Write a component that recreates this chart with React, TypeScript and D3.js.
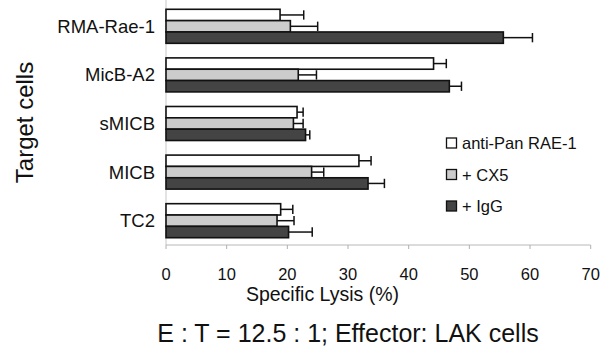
import React from 'react';
import { scaleLinear, scaleBand } from 'd3';

const categories = ['RMA-Rae-1', 'MicB-A2', 'sMICB', 'MICB', 'TC2'];
const seriesNames = ['anti-Pan RAE-1', '+ CX5', '+ IgG'];
const seriesColors = ['#ffffff', '#cccccc', '#444444'];

// values per series, in category order
const antiPan = [18.8, 44.1, 21.6, 31.8, 18.9];
const cx5 = [20.5, 21.8, 21.0, 24.0, 18.3];
const igg = [55.6, 46.7, 23.0, 33.3, 20.2];

// error (upper side only)
const antiPanErr = [3.9, 2.1, 1.0, 2.0, 2.0];
const cx5Err = [4.5, 3.0, 1.6, 2.0, 2.8];
const iggErr = [4.8, 2.0, 0.7, 2.7, 3.9];

const xTicks = [0, 10, 20, 30, 40, 50, 60, 70];

const FONT = 'Arial, "Liberation Sans", sans-serif';

export default function App() {
  const width = 605;
  const height = 350;
  const left = 166;
  const right = 590.7;
  const top = 2;
  const bottom = 245;

  const x = scaleLinear().domain([0, 70]).range([left, right]);
  const y = scaleBand<string>().domain(categories).range([top, bottom]).paddingInner(0.3).paddingOuter(0.15);
  const inner = scaleBand<number>().domain([0, 1, 2]).range([0, y.bandwidth()]);

  const values = [antiPan, cx5, igg];
  const errs = [antiPanErr, cx5Err, iggErr];

  return (
    <svg width={width} height={height} style={{ position: 'absolute', left: 0, top: 0 }} fontFamily={FONT}>
      <rect width={width} height={height} fill="#fff" />
      {/* y axis line */}
      <line x1={left} x2={left} y1={0} y2={bottom} stroke="#c8c8c8" strokeWidth={1} />
      {/* x axis */}
      <line x1={left} x2={right} y1={bottom} y2={bottom} stroke="#b8b8b8" strokeWidth={1} />
      {xTicks.map(t => (
        <g key={t}>
          <line x1={x(t)} x2={x(t)} y1={bottom} y2={bottom + 4} stroke="#b0b0b0" />
          <text x={x(t)} y={280} textAnchor="middle" fontSize={16.5} fill="#111">{t}</text>
        </g>
      ))}
      <text x={322.5} y={300.5} textAnchor="middle" fontSize={19.5} fill="#111">Specific Lysis (%)</text>
      <text x={348} y={342} textAnchor="middle" fontSize={25} fill="#111">E : T = 12.5 : 1; Effector: LAK cells</text>

      {/* y labels */}
      {categories.map(c => (
        <text key={c} x={155} y={(y(c) ?? 0) + y.bandwidth() / 2 + 6.5} textAnchor="end" fontSize={18.5} fill="#111">{c}</text>
      ))}
      <text transform={`translate(33,122.5) rotate(-90)`} textAnchor="middle" fontSize={24} fill="#111">Target cells</text>

      {/* bars */}
      {categories.map((c, ci) => (
        <g key={c}>
          {values.map((vals, si) => {
            const by = (y(c) ?? 0) + (inner(si) ?? 0);
            const bh = inner.bandwidth();
            const v = vals[ci];
            const e = errs[si][ci];
            return (
              <g key={si}>
                <rect x={x(0)} y={by} width={x(v) - x(0)} height={bh} fill={seriesColors[si]} stroke="#111" strokeWidth={1.6} />
                <line x1={x(v)} x2={x(v + e)} y1={by + bh / 2} y2={by + bh / 2} stroke="#111" strokeWidth={1.5} />
                <line x1={x(v + e)} x2={x(v + e)} y1={by + 1} y2={by + bh - 1} stroke="#111" strokeWidth={1.5} />
              </g>
            );
          })}
        </g>
      ))}

      {/* legend */}
      {seriesNames.map((n, i) => {
        const cy = 143 + i * 31.5;
        return (
          <g key={n}>
            <rect x={446.5} y={cy - 5} width={10} height={10} fill={seriesColors[i]} stroke="#111" strokeWidth={1.3} />
            <text x={462} y={cy + 6} fontSize={16.5} fill="#111">{n}</text>
          </g>
        );
      })}
    </svg>
  );
}
